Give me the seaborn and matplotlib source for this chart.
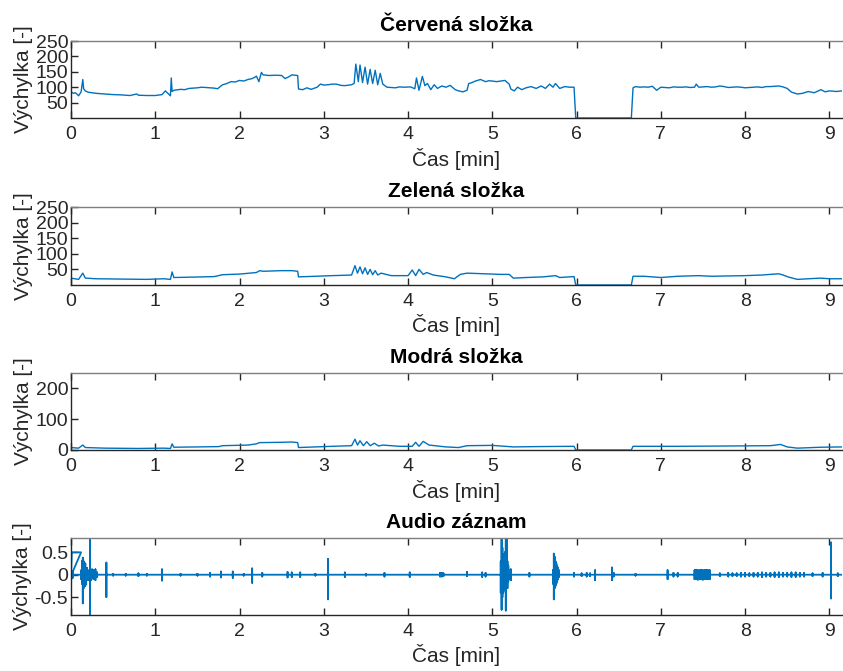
import matplotlib
matplotlib.use("Agg")
import matplotlib.pyplot as plt
import seaborn as sns
import pandas as pd

# Red / green / blue component (time in minutes, value 0-255)
red_t = [0.00, 0.03, 0.05, 0.07, 0.09, 0.12, 0.14, 0.15, 0.17, 0.20, 0.25, 0.30, 0.40, 0.50, 0.60,
         0.70, 0.78, 0.80, 0.90, 1.00, 1.05, 1.08, 1.12, 1.15, 1.18, 1.19, 1.20, 1.22, 1.30, 1.35,
         1.40, 1.45, 1.50, 1.55, 1.60, 1.65, 1.70, 1.74, 1.78, 1.80, 1.85, 1.90, 1.95, 2.00, 2.05,
         2.10, 2.15, 2.18, 2.20, 2.23, 2.26, 2.28, 2.35, 2.42, 2.50, 2.54, 2.58, 2.62, 2.69, 2.70,
         2.75, 2.80, 2.85, 2.92, 2.96, 3.00, 3.05, 3.10, 3.15, 3.20, 3.25, 3.33, 3.36, 3.38, 3.41,
         3.43, 3.46, 3.49, 3.52, 3.55, 3.58, 3.61, 3.64, 3.67, 3.70, 3.75, 3.80, 3.85, 3.90, 3.95,
         4.03, 4.08, 4.10, 4.13, 4.17, 4.20, 4.23, 4.27, 4.31, 4.35, 4.40, 4.45, 4.50, 4.56, 4.60,
         4.65, 4.70, 4.72, 4.75, 4.80, 4.86, 4.92, 4.96, 5.00, 5.05, 5.10, 5.15, 5.20, 5.22, 5.26,
         5.30, 5.35, 5.40, 5.46, 5.52, 5.58, 5.63, 5.68, 5.72, 5.75, 5.80, 5.86, 5.92, 5.97, 5.99,
         6.65, 6.67, 6.70, 6.75, 6.80, 6.85, 6.90, 6.95, 7.00, 7.05, 7.10, 7.15, 7.20, 7.25, 7.30,
         7.35, 7.40, 7.42, 7.45, 7.50, 7.55, 7.60, 7.65, 7.70, 7.75, 7.80, 7.85, 7.90, 7.95, 8.00,
         8.05, 8.10, 8.15, 8.20, 8.25, 8.30, 8.35, 8.40, 8.45, 8.50, 8.55, 8.62, 8.68, 8.75, 8.82,
         8.90, 8.95, 9.00, 9.05, 9.08, 9.15]
red_v = [85, 80, 82, 78, 72, 85, 125, 95, 88, 84, 82, 80, 78, 76, 75,
         73, 78, 74, 73, 73, 75, 76, 88, 80, 72, 130, 86, 90, 93, 92,
         96, 97, 98, 100, 99, 98, 97, 95, 104, 108, 112, 118, 117, 122, 120,
         125, 128, 132, 136, 118, 148, 140, 138, 139, 138, 128, 133, 140, 138, 94,
         92, 98, 93, 100, 110, 107, 108, 110, 110, 106, 105, 108, 112, 175, 118,
         172, 115, 165, 110, 158, 112, 155, 108, 145, 110, 100, 99, 98, 101, 100,
         101, 95, 130, 90, 135, 105, 112, 92, 108, 96, 104, 100, 106, 92, 88,
         85, 90, 112, 114, 120, 125, 118, 121, 120, 118, 120, 122, 110, 94, 88,
         100, 92, 98, 102, 96, 104, 96, 110, 100, 112, 96, 102, 100, 100, 0,
         0, 98, 102, 100, 101, 100, 103, 90, 100, 99, 98, 101, 100, 100, 101,
         99, 100, 110, 100, 101, 102, 100, 101, 104, 102, 99, 100, 101, 100, 98,
         99, 100, 101, 99, 102, 102, 103, 104, 101, 96, 84, 78, 80, 86, 82,
         92, 85, 88, 87, 86, 88]

green_t = [0.00, 0.09, 0.14, 0.17, 0.30, 0.60, 0.90, 1.10, 1.18, 1.20, 1.22, 1.40, 1.70, 1.80, 2.00,
           2.20, 2.24, 2.28, 2.50, 2.62, 2.69, 2.70, 2.90, 3.10, 3.33, 3.37, 3.40, 3.43, 3.46, 3.49,
           3.52, 3.55, 3.58, 3.61, 3.64, 3.68, 3.80, 4.00, 4.05, 4.09, 4.13, 4.18, 4.22, 4.30, 4.45,
           4.55, 4.62, 4.70, 4.90, 5.10, 5.20, 5.25, 5.40, 5.60, 5.75, 5.80, 5.97, 5.99, 6.65, 6.67,
           6.80, 7.00, 7.20, 7.45, 7.60, 7.80, 8.00, 8.20, 8.40, 8.45, 8.52, 8.62, 8.75, 8.90, 9.00,
           9.15]
green_v = [22, 18, 38, 22, 20, 19, 18, 20, 18, 42, 24, 25, 27, 33, 35,
           40, 46, 44, 46, 46, 44, 26, 28, 30, 32, 62, 38, 58, 36, 55,
           34, 50, 33, 46, 32, 38, 30, 30, 48, 30, 50, 34, 40, 32, 26,
           20, 34, 38, 36, 34, 34, 22, 24, 26, 30, 24, 27, 0, 0, 28,
           28, 24, 28, 30, 28, 29, 30, 32, 36, 32, 25, 18, 20, 22, 20,
           20]

blue_t = [0.00, 0.09, 0.14, 0.17, 0.40, 0.80, 1.10, 1.18, 1.20, 1.22, 1.50, 1.75, 1.80, 2.10,
          2.20, 2.24, 2.50, 2.62, 2.69, 2.70, 2.90, 3.10, 3.33, 3.37, 3.40, 3.43, 3.47, 3.51,
          3.55, 3.60, 3.65, 3.70, 3.90, 4.05, 4.09, 4.13, 4.18, 4.25, 4.45, 4.60, 4.70, 5.00,
          5.25, 5.50, 5.97, 5.99, 6.65, 6.67, 7.20, 7.80, 8.30, 8.42, 8.50, 8.62, 8.90, 9.15]
blue_v = [8, 6, 16, 8, 6, 5, 6, 5, 20, 9, 10, 11, 14, 16,
          20, 24, 25, 26, 24, 8, 10, 12, 14, 35, 16, 30, 14, 27,
          14, 22, 13, 16, 12, 12, 25, 12, 28, 16, 10, 8, 14, 15,
          10, 11, 12, 0, 0, 12, 12, 13, 14, 18, 10, 6, 9, 10]

# Audio record: opening step, then bursts as (time [min], peak up, peak down)
audio_head_t = [0.00, 0.01, 0.12]
audio_head_v = [0.0, 0.5, 0.5]
audio_bursts = [
    (0.005, 0.06, -0.05), (0.015, 0.08, -0.08), (0.025, 0.06, -0.06), (0.122, 0.1, -0.1),
    (0.130, 0.3, -0.2), (0.140, 0.38, -0.64), (0.150, 0.3, -0.3), (0.160, 0.2, -0.15),
    (0.170, 0.25, -0.25), (0.180, 0.15, -0.2), (0.190, 0.15, -0.1), (0.200, 0.1, -0.12),
    (0.225, 0.95, -0.95), (0.240, 0.1, -0.12), (0.250, 0.12, -0.08), (0.270, 0.1, -0.1),
    (0.290, 0.12, -0.12), (0.310, 0.05, -0.05), (0.420, 0.27, -0.5), (0.500, 0.02, -0.02),
    (0.650, 0.02, -0.02), (0.800, 0.03, -0.03), (0.900, 0.02, -0.02), (1.080, 0.12, -0.13),
    (1.300, 0.02, -0.02), (1.500, 0.02, -0.02), (1.650, 0.04, -0.04), (1.780, 0.07, -0.06),
    (1.920, 0.07, -0.07), (2.050, 0.02, -0.02), (2.150, 0.14, -0.18), (2.270, 0.04, -0.04),
    (2.570, 0.06, -0.06), (2.620, 0.05, -0.05), (2.720, 0.05, -0.05), (2.900, 0.02, -0.02),
    (3.050, 0.35, -0.55), (3.250, 0.05, -0.05), (3.500, 0.02, -0.02), (3.720, 0.04, -0.04),
    (4.020, 0.05, -0.05), (4.380, 0.04, -0.04), (4.400, 0.04, -0.04), (4.420, 0.03, -0.03),
    (4.700, 0.06, -0.03), (4.880, 0.05, -0.05), (4.920, 0.04, -0.04), (5.100, 0.3, -0.4),
    (5.110, 0.95, -0.78), (5.120, 0.6, -0.5), (5.130, 0.45, -0.4), (5.140, 0.4, -0.3),
    (5.150, 0.5, -0.35), (5.160, 0.95, -0.8), (5.170, 0.85, -0.3), (5.180, 0.3, -0.3),
    (5.190, 0.2, -0.15), (5.200, 0.1, -0.1), (5.220, 0.12, -0.12), (5.440, 0.04, -0.04),
    (5.720, 0.1, -0.2), (5.730, 0.47, -0.55), (5.740, 0.4, -0.3), (5.750, 0.3, -0.25),
    (5.760, 0.25, -0.2), (5.770, 0.2, -0.15), (5.780, 0.15, -0.1), (5.790, 0.1, -0.05),
    (5.970, 0.04, -0.04), (6.060, 0.03, -0.03), (6.120, 0.04, -0.04), (6.160, 0.03, -0.03),
    (6.220, 0.1, -0.12), (6.420, 0.16, -0.12), (6.440, 0.04, -0.04), (6.700, 0.02, -0.02),
    (7.080, 0.1, -0.1), (7.150, 0.04, -0.04), (7.200, 0.04, -0.04), (7.400, 0.1, -0.1),
    (7.420, 0.11, -0.1), (7.440, 0.1, -0.11), (7.460, 0.1, -0.1), (7.480, 0.11, -0.1),
    (7.500, 0.1, -0.11), (7.520, 0.1, -0.1), (7.540, 0.11, -0.1), (7.560, 0.1, -0.1),
    (7.580, 0.1, -0.1), (7.700, 0.03, -0.03), (7.800, 0.04, -0.04), (7.850, 0.03, -0.03),
    (7.900, 0.03, -0.03), (7.950, 0.04, -0.04), (8.000, 0.04, -0.04), (8.050, 0.03, -0.03),
    (8.100, 0.04, -0.04), (8.150, 0.04, -0.04), (8.200, 0.05, -0.05), (8.250, 0.04, -0.04),
    (8.300, 0.04, -0.04), (8.350, 0.05, -0.05), (8.400, 0.05, -0.05), (8.450, 0.04, -0.04),
    (8.500, 0.04, -0.04), (8.550, 0.05, -0.05), (8.600, 0.05, -0.05), (8.650, 0.04, -0.04),
    (8.700, 0.04, -0.04), (8.800, 0.03, -0.03), (8.920, 0.04, -0.04), (9.020, 0.72, -0.53),
    (9.100, 0.03, -0.03),
]
audio_t = list(audio_head_t)
audio_v = list(audio_head_v)
for t, up, down in audio_bursts:
    audio_t += [t, t, t, t]
    audio_v += [0.0, up, down, 0.0]
audio_t.append(9.15)
audio_v.append(0.0)

titles = ["Červená složka", "Zelená složka", "Modrá složka", "Audio záznam"]
x_ticks = [0, 1, 2, 3, 4, 5, 6, 7, 8, 9]
y_ticks_rg = [50, 100, 150, 200, 250]
y_ticks_b = [0, 100, 200]
y_ticks_audio = [-0.5, 0, 0.5]
y_ticks_audio_labels = ["-0.5", "0", "0.5"]

sns.set_theme(style="white")
plt.rcParams["font.family"] = ["Liberation Sans", "DejaVu Sans"]

line_color = "#0072BD"
dark = "#262626"

fig = plt.figure(figsize=(8.43, 6.71), dpi=100)
W, H = 843, 671
# axes rectangles in pixel units: (top, bottom)
rows = [(41, 118), (207, 285), (373, 450), (538, 615)]
left_px, right_px = 71, 842

series = [
    pd.DataFrame({"t": red_t, "v": red_v}),
    pd.DataFrame({"t": green_t, "v": green_v}),
    pd.DataFrame({"t": blue_t, "v": blue_v}),
    pd.DataFrame({"t": audio_t, "v": audio_v}),
]

for i, (top, bottom) in enumerate(rows):
    ax = fig.add_axes([left_px / W, 1 - bottom / H, (right_px - left_px) / W, (bottom - top) / H])
    df = series[i]
    sns.lineplot(data=df, x="t", y="v", ax=ax, color=line_color, sort=False, estimator=None,
                 linewidth=1.0 if i < 3 else 1.3)
    ax.set_xlim(0, 9.15)
    if i < 2:
        ax.set_ylim(0, 250)
        ax.set_yticks(y_ticks_rg)
    elif i == 2:
        ax.set_ylim(0, 250)
        ax.set_yticks(y_ticks_b)
    else:
        ax.set_ylim(-0.9, 0.82)
        ax.set_yticks(y_ticks_audio)
        ax.set_yticklabels(y_ticks_audio_labels)
    ax.set_xticks(x_ticks)
    ax.set_title(titles[i], fontsize=15, fontweight="bold", color="black", pad=7)
    ax.set_xlabel("Čas [min]", fontsize=15, color=dark, labelpad=3)
    ax.set_ylabel("Výchylka [-]", fontsize=15, color=dark, labelpad=2)
    ax.tick_params(axis="both", direction="in", length=5, width=1.0, colors=dark,
                   labelsize=14, top=True, bottom=True, left=True, right=False, pad=6)
    ax.tick_params(axis="y", pad=2)
    for side in ["left", "bottom"]:
        ax.spines[side].set_color(dark)
        ax.spines[side].set_linewidth(1.0)
    ax.spines["top"].set_color("#7f7f7f")
    ax.spines["top"].set_linewidth(1.0)
    ax.spines["right"].set_visible(False)

fig.savefig("out.png", dpi=100)
